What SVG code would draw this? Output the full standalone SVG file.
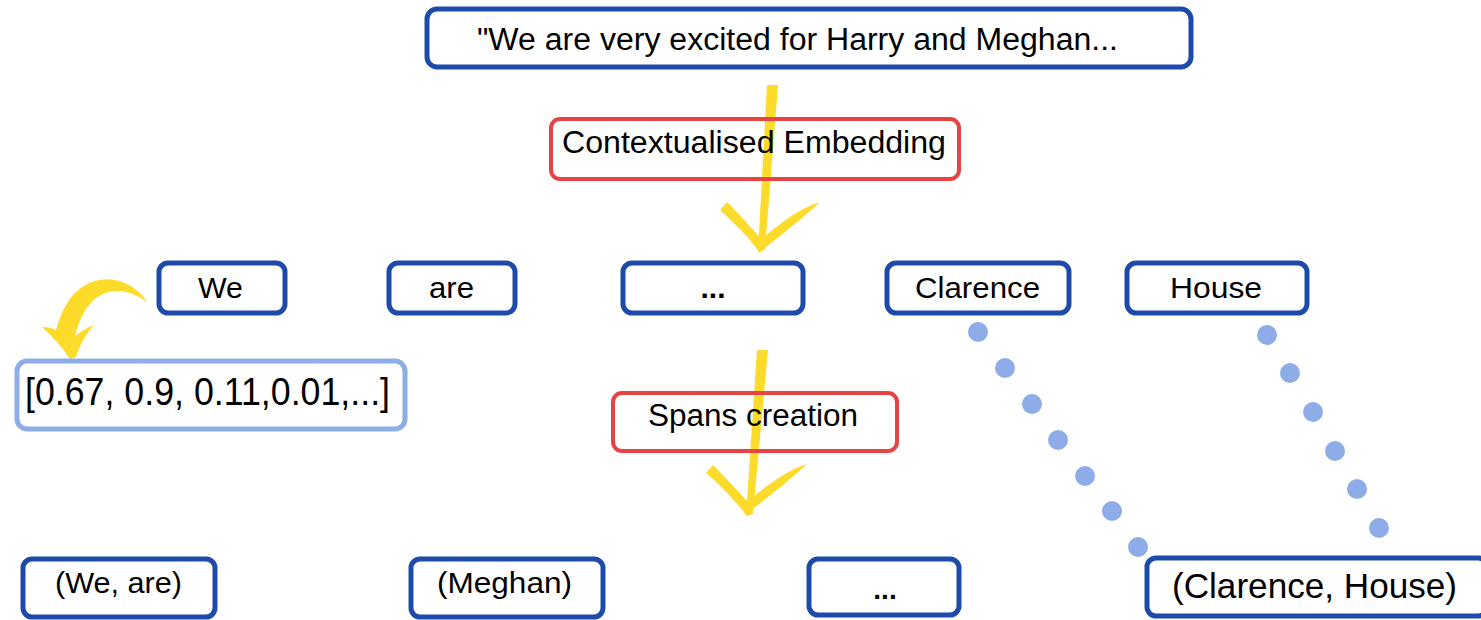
<svg xmlns="http://www.w3.org/2000/svg" width="1481" height="620" viewBox="0 0 1481 620">
  <style>
    .box { fill: #ffffff; stroke: #1e4aaa; stroke-width: 5; }
    .rbox { fill: none; stroke: #e84343; stroke-width: 4; }
    .lbox { fill: #ffffff; stroke: #8eade8; stroke-width: 5; }
    .t { font-family: "Liberation Sans", "DejaVu Sans", sans-serif; fill: #000000; }
    .dot { fill: #8eade8; }
    .brush { fill: #fddb2a; }
  </style>

  <!-- connectors sit underneath the step labels -->
  <g id="connectors">
    <!-- sentence to tokens -->
    <path class="brush" d="M767,85 L778,85 L765,250 L758,252 Z"/>
    <path class="brush" d="M720,210 L727,202 C740,215 755,232 766,244 L760,253 C748,236 733,222 720,210 Z"/>
    <path class="brush" d="M820,202 C800,208 782,222 765,236 L762,250 C785,232 803,218 820,202 Z"/>

    <!-- tokens to spans -->
    <path class="brush" d="M757,350 L768,350 L753,514 L746,516 Z"/>
    <path class="brush" d="M706,473 L713,465 C726,478 741,495 753,507 L747,516 C735,500 720,485 706,473 Z"/>
    <path class="brush" d="M807,464 C787,470 769,484 752,498 L749,512 C772,494 790,480 807,464 Z"/>

    <!-- token to vector (curved) -->
    <path class="brush" d="M148,303 C128,272 86,270 66,305 C61,314 58,322 56,330 C52,328 47,327 42,327 C53,337 62,347 70,359 L76,357 C80,344 86,334 94,325 C86,328 80,332 75,336 C79,320 86,304 99,296 C116,286 135,292 148,303 Z"/>

    <!-- Clarence to span -->
    <circle class="dot" cx="978" cy="332" r="10"/>
    <circle class="dot" cx="1005" cy="368" r="10"/>
    <circle class="dot" cx="1032" cy="404" r="10"/>
    <circle class="dot" cx="1058" cy="440" r="10"/>
    <circle class="dot" cx="1085" cy="476" r="10"/>
    <circle class="dot" cx="1112" cy="511" r="10"/>
    <circle class="dot" cx="1138" cy="547" r="10"/>

    <!-- House to span -->
    <circle class="dot" cx="1267" cy="335" r="10"/>
    <circle class="dot" cx="1290" cy="373" r="10"/>
    <circle class="dot" cx="1313" cy="412" r="10"/>
    <circle class="dot" cx="1335" cy="451" r="10"/>
    <circle class="dot" cx="1357" cy="489" r="10"/>
    <circle class="dot" cx="1379" cy="528" r="10"/>
    <circle class="dot" cx="1401" cy="566" r="10"/>
  </g>

  <!-- input sentence -->
  <g id="sentence">
    <rect class="box" x="427" y="9" width="764" height="58" rx="10"/>
    <text class="t" x="477" y="50" font-size="31" textLength="641" lengthAdjust="spacingAndGlyphs">"We are very excited for Harry and Meghan...</text>
  </g>

  <!-- processing steps -->
  <g id="contextualised-embedding">
    <rect class="rbox" x="551" y="119" width="408" height="60" rx="9"/>
    <text class="t" x="562" y="153" font-size="31" textLength="384" lengthAdjust="spacingAndGlyphs">Contextualised Embedding</text>
  </g>

  <g id="spans-creation">
    <rect class="rbox" x="613" y="393" width="284" height="58" rx="9"/>
    <text class="t" x="648" y="426" font-size="31" textLength="210" lengthAdjust="spacingAndGlyphs">Spans creation</text>
  </g>

  <!-- tokens -->
  <g id="tok-we">
    <rect class="box" x="159" y="263" width="126" height="50" rx="9"/>
    <text class="t" x="198" y="298" font-size="30" textLength="45" lengthAdjust="spacingAndGlyphs">We</text>
  </g>
  <g id="tok-are">
    <rect class="box" x="389" y="263" width="126" height="50" rx="9"/>
    <text class="t" x="429" y="298" font-size="30" textLength="45" lengthAdjust="spacingAndGlyphs">are</text>
  </g>
  <g id="tok-ellipsis">
    <rect class="box" x="623" y="263" width="180" height="50" rx="9"/>
    <text class="t" x="713" y="298" font-size="30" font-weight="bold" text-anchor="middle">...</text>
  </g>
  <g id="tok-clarence">
    <rect class="box" x="887" y="263" width="182" height="50" rx="9"/>
    <text class="t" x="915" y="298" font-size="30" textLength="125" lengthAdjust="spacingAndGlyphs">Clarence</text>
  </g>
  <g id="tok-house">
    <rect class="box" x="1127" y="263" width="180" height="50" rx="9"/>
    <text class="t" x="1170" y="298" font-size="30" textLength="92" lengthAdjust="spacingAndGlyphs">House</text>
  </g>

  <!-- embedding vector -->
  <g id="vector">
    <rect class="lbox" x="17" y="361" width="388" height="68" rx="10"/>
    <text class="t" x="25" y="405" font-size="38" textLength="365" lengthAdjust="spacingAndGlyphs">[0.67, 0.9, 0.11,0.01,...]</text>
  </g>

  <!-- spans -->
  <g id="span-we-are">
    <rect class="box" x="23" y="559" width="192" height="58" rx="9"/>
    <text class="t" x="55" y="593" font-size="30" textLength="127" lengthAdjust="spacingAndGlyphs">(We, are)</text>
  </g>
  <g id="span-meghan">
    <rect class="box" x="411" y="559" width="192" height="58" rx="9"/>
    <text class="t" x="437" y="593" font-size="30" textLength="135" lengthAdjust="spacingAndGlyphs">(Meghan)</text>
  </g>
  <g id="span-ellipsis">
    <rect class="box" x="809" y="559" width="150" height="56" rx="9"/>
    <text class="t" x="885" y="599" font-size="28" font-weight="bold" text-anchor="middle">...</text>
  </g>
  <g id="span-clarence-house">
    <rect class="box" x="1147" y="558" width="340" height="58" rx="9"/>
    <text class="t" x="1172" y="598" font-size="35" textLength="285" lengthAdjust="spacingAndGlyphs">(Clarence, House)</text>
  </g>
</svg>
